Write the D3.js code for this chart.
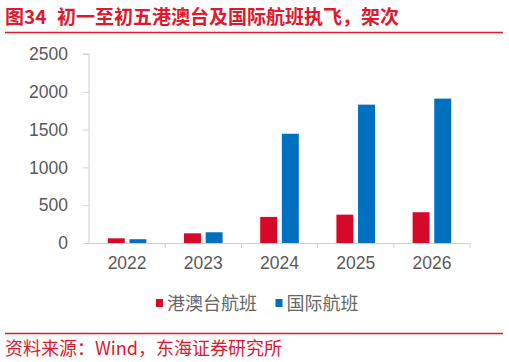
<!doctype html>
<meta charset="utf-8">
<style>
  body { margin: 0; background: #fff; }
  svg { display: block; font-family: "Liberation Sans", Arial, "Noto Sans CJK SC", sans-serif; }
</style>
<svg id="chart" width="509" height="362"></svg>
<script src="https://d3js.org/d3.v7.min.js"></script>
<script>
  let years = ["2022", "2023", "2024", "2025", "2026"];
  let hkMacauTaiwan = [62, 128, 345, 375, 407];
  let international = [50, 142, 1445, 1830, 1910];
  let seriesNames = ["港澳台航班", "国际航班"];
  let colours = ["#D7092A", "#0070C0"];
  let yTicks = [0, 500, 1000, 1500, 2000, 2500];

  let svg = d3.select("#chart");
  let red = "#E0182E";

  // title + rules
  let title = svg.append("text")
    .attr("x", 5).attr("y", 24)
    .attr("fill", red)
    .attr("font-size", 19).attr("font-weight", "bold")
    .attr("font-family", "'Noto Sans CJK SC', sans-serif");
  title.append("tspan").text("图34");
  title.append("tspan").attr("x", 57).text("初一至初五港澳台及国际航班执飞，架次");
  svg.append("line").attr("x1", 5).attr("x2", 503).attr("y1", 32.5).attr("y2", 32.5)
    .attr("stroke", red).attr("stroke-width", 1.5);
  svg.append("line").attr("x1", 5).attr("x2", 503).attr("y1", 333.5).attr("y2", 333.5)
    .attr("stroke", red).attr("stroke-width", 1.5);
  svg.append("text")
    .attr("x", 5).attr("y", 355)
    .attr("fill", red)
    .attr("font-size", 18)
    .attr("font-family", "'Noto Sans CJK SC', sans-serif")
    .text("资料来源：Wind，东海证券研究所");

  let x = d3.scaleBand().domain(years).range([89, 470]);
  let half = x.bandwidth() / 2;
  let inner = d3.scaleBand().domain(seriesNames).range([half - 19.3, half + 19.3]).paddingInner(0.217);
  let y = d3.scaleLinear().domain([0, 2500]).range([243, 54]);

  // y axis
  let yAxis = svg.append("g")
    .attr("transform", "translate(89,0)")
    .call(d3.axisLeft(y).tickValues(yTicks).tickFormat(d3.format("d")).tickSize(6).tickPadding(15));
  yAxis.select(".domain").attr("stroke", "#D0D0D0").attr("d", "M-6," + y(2500) + "H0V" + y(0));
  yAxis.selectAll(".tick line").attr("stroke", "#D0D0D0");
  yAxis.selectAll("text").attr("fill", "#595959").attr("font-size", 17.5);

  // x axis
  let xAxis = svg.append("g")
    .attr("transform", "translate(0,243)")
    .call(d3.axisBottom(x).tickSize(0).tickPadding(14));
  xAxis.select(".domain").attr("stroke", "#D0D0D0");
  xAxis.selectAll("text").attr("fill", "#595959").attr("font-size", 17.5);
  xAxis.selectAll(".sep").data(years).enter()
    .append("line")
    .attr("x1", (d, i) => x.range()[0] + x.step() * (i + 1))
    .attr("x2", (d, i) => x.range()[0] + x.step() * (i + 1))
    .attr("y1", 0).attr("y2", 5)
    .attr("stroke", "#D0D0D0");

  // bars
  let series = [hkMacauTaiwan, international];
  series.forEach((vals, s) => {
    svg.append("g").selectAll("rect")
      .data(vals).enter()
      .append("rect")
      .attr("x", (d, i) => x(years[i]) + inner(seriesNames[s]))
      .attr("width", inner.bandwidth())
      .attr("y", d => y(d))
      .attr("height", d => y(0) - y(d))
      .attr("fill", colours[s]);
  });

  // legend
  let legendX = [156, 275.5];
  let legend = svg.append("g").selectAll("g")
    .data(seriesNames).enter()
    .append("g")
    .attr("transform", (d, i) => "translate(" + legendX[i] + ",0)");
  legend.append("rect")
    .attr("x", 0).attr("y", 299).attr("width", 7).attr("height", 8)
    .attr("fill", (d, i) => colours[i]);
  legend.append("text")
    .attr("x", 11).attr("y", 310)
    .attr("fill", "#666666").attr("font-size", 18)
    .attr("font-family", "'Noto Sans CJK SC', sans-serif")
    .text(d => d);
</script>
